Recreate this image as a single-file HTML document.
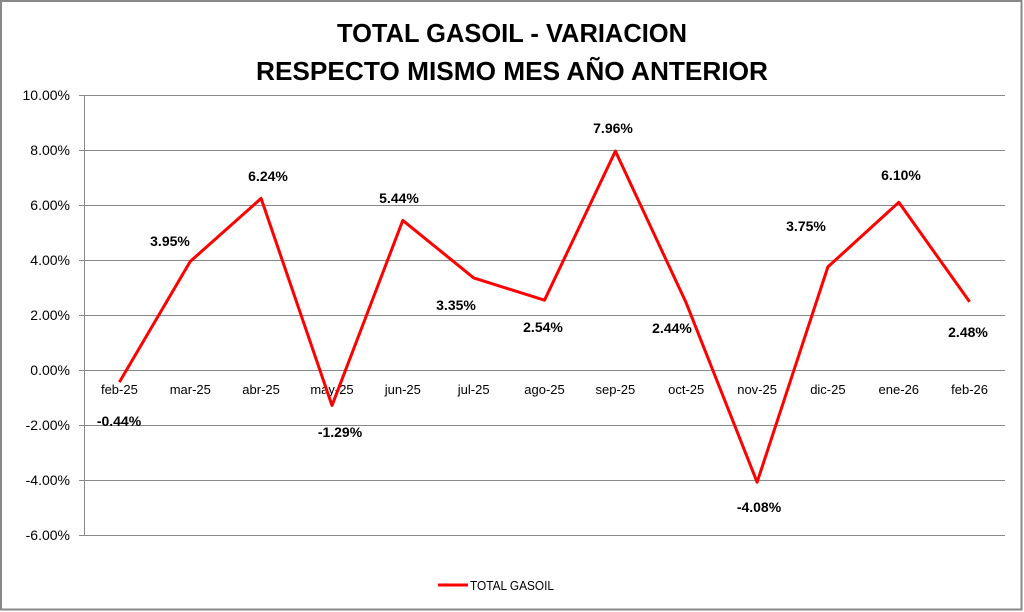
<!DOCTYPE html>
<html><head><meta charset="utf-8"><style>
html,body{margin:0;padding:0;background:#fff;}
svg{display:block;font-family:"Liberation Sans",Arial,sans-serif;}
</style></head><body>
<svg width="1024" height="612" viewBox="0 0 1024 612" xmlns="http://www.w3.org/2000/svg">
<rect x="1" y="1" width="1020.5" height="608.5" fill="#fff" stroke="#888" stroke-width="2"/>
<text x="512" y="42" text-anchor="middle" font-size="26" font-weight="bold" fill="#000" textLength="350" lengthAdjust="spacingAndGlyphs">TOTAL GASOIL - VARIACION</text>
<text x="512" y="80" text-anchor="middle" font-size="26" font-weight="bold" fill="#000" textLength="512" lengthAdjust="spacingAndGlyphs">RESPECTO MISMO MES AÑO ANTERIOR</text>
<g stroke="#888" stroke-width="1">
<line x1="79" y1="95.5" x2="1005" y2="95.5"/>
<line x1="79" y1="150.5" x2="1005" y2="150.5"/>
<line x1="79" y1="205.5" x2="1005" y2="205.5"/>
<line x1="79" y1="260.5" x2="1005" y2="260.5"/>
<line x1="79" y1="315.5" x2="1005" y2="315.5"/>
<line x1="79" y1="370.5" x2="1005" y2="370.5"/>
<line x1="79" y1="425.5" x2="1005" y2="425.5"/>
<line x1="79" y1="480.5" x2="1005" y2="480.5"/>
<line x1="79" y1="535.5" x2="1005" y2="535.5"/>
<line x1="84.5" y1="95" x2="84.5" y2="535"/>
</g>
<g font-size="14" text-anchor="end" fill="#000">
<text x="70" y="100">10.00%</text>
<text x="70" y="155">8.00%</text>
<text x="70" y="210">6.00%</text>
<text x="70" y="265">4.00%</text>
<text x="70" y="320">2.00%</text>
<text x="70" y="375">0.00%</text>
<text x="70" y="430">-2.00%</text>
<text x="70" y="485">-4.00%</text>
<text x="70" y="540">-6.00%</text>
</g>
<g font-size="13" text-anchor="middle" fill="#000">
<text x="119.4" y="394">feb-25</text>
<text x="190.3" y="394">mar-25</text>
<text x="261.1" y="394">abr-25</text>
<text x="332" y="394">may-25</text>
<text x="402.8" y="394">jun-25</text>
<text x="473.7" y="394">jul-25</text>
<text x="544.5" y="394">ago-25</text>
<text x="615.4" y="394">sep-25</text>
<text x="686.2" y="394">oct-25</text>
<text x="757.1" y="394">nov-25</text>
<text x="827.9" y="394">dic-25</text>
<text x="898.8" y="394">ene-26</text>
<text x="969.6" y="394">feb-26</text>
</g>
<polyline fill="none" stroke="#ff0000" stroke-width="3" stroke-linejoin="round" points="119.4,382.1 190.3,261.4 261.1,198.4 332,405.5 402.8,220.4 473.7,277.9 544.5,300.2 615.4,151.1 686.2,302.9 757.1,482.2 827.9,266.9 898.8,202.3 969.6,301.8"/>
<g font-size="14" font-weight="bold" text-anchor="middle" fill="#000">
<text x="119" y="426">-0.44%</text>
<text x="170" y="246">3.95%</text>
<text x="268" y="181">6.24%</text>
<text x="340" y="437">-1.29%</text>
<text x="399" y="203">5.44%</text>
<text x="456" y="310">3.35%</text>
<text x="543" y="332">2.54%</text>
<text x="613" y="133">7.96%</text>
<text x="672" y="333">2.44%</text>
<text x="759" y="512">-4.08%</text>
<text x="806" y="231">3.75%</text>
<text x="901" y="180">6.10%</text>
<text x="968" y="337">2.48%</text>
</g>
<line x1="438" y1="585" x2="468" y2="585" stroke="#ff0000" stroke-width="3"/>
<text x="470" y="590" font-size="13" fill="#000" textLength="84" lengthAdjust="spacingAndGlyphs">TOTAL GASOIL</text>
</svg>
</body></html>
